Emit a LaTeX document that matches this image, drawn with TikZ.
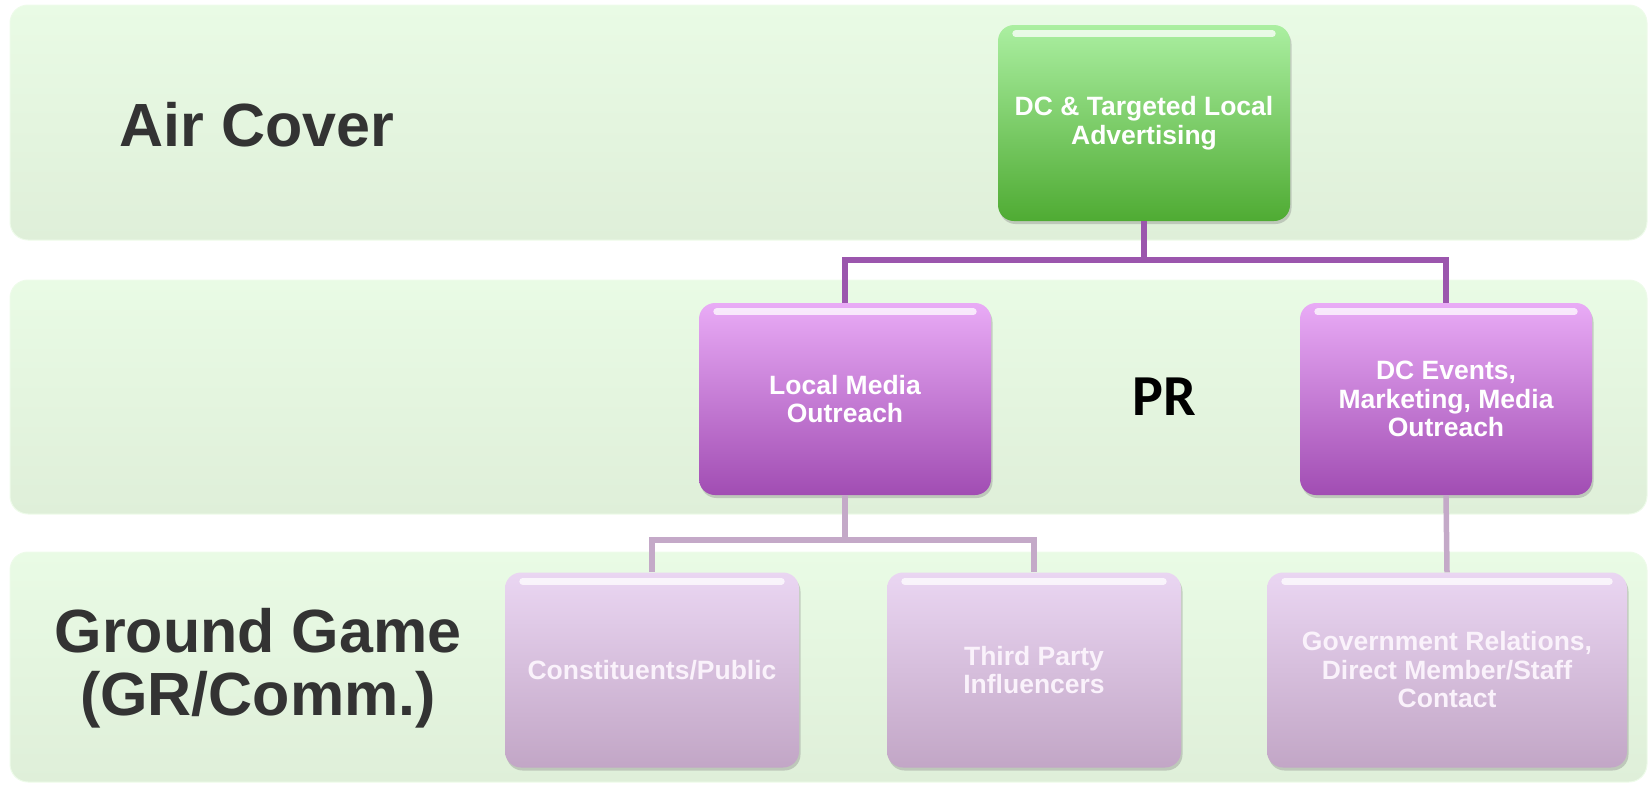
\documentclass[tikz,border=0pt]{standalone}
\usepackage{fontspec}
\setmainfont{Liberation Sans}
\newfontfamily\prfont{Carlito}
\usetikzlibrary{shadows}

\definecolor{bandtop}{HTML}{E9FBE5}
\definecolor{bandbot}{HTML}{DFEFD9}
\definecolor{bandedge}{HTML}{EEFBEA}
\definecolor{greentop}{HTML}{ABEFA1}
\definecolor{greenbot}{HTML}{4FAB33}
\definecolor{violettop}{HTML}{E9ABF6}
\definecolor{violetbot}{HTML}{A14DB3}
\definecolor{lilactop}{HTML}{EAD6F2}
\definecolor{lilacbot}{HTML}{C2A6C6}
\definecolor{linkviolet}{HTML}{9B56AD}
\definecolor{linklilac}{HTML}{C4A9C8}
\definecolor{labelgray}{HTML}{333333}
\definecolor{lilactext}{HTML}{FAF2FB}

\tikzset{
	band/.style={rounded corners=18pt, top color=bandtop, bottom color=bandbot, draw=bandedge, line width=1pt},
	rowlabel/.style={align=center, text=labelgray, font=\fontsize{61}{63}\selectfont\bfseries},
	tile/.style={rounded corners=16pt, align=center, text=white, inner sep=0pt,
		font=\fontsize{26.5}{28.5}\selectfont\bfseries,
		drop shadow={opacity=0.35, shadow xshift=1.5pt, shadow yshift=-3pt}},
	greentile/.style={tile, top color=greentop, bottom color=greenbot},
	violettile/.style={tile, top color=violettop, bottom color=violetbot},
	lilactile/.style={tile, top color=lilactop, bottom color=lilacbot, text=lilactext},
	link/.style={draw=linkviolet, line width=5.5pt},
	sublink/.style={draw=linklilac, line width=5.5pt},
	gloss/.style={draw=white, line width=7pt, line cap=round, opacity=0.75}
}

\begin{document}
\begin{tikzpicture}[x=1pt,y=-1pt]
	\useasboundingbox (0,0) rectangle (1651,785);
	% Define the bands
	\draw[band] (10,5) rectangle (1647,240);
	\draw[band] (10,280) rectangle (1647,514);
	\draw[band] (10,552) rectangle (1647,782);
	% Add labels to the bands
	\node[rowlabel] (air) at (257,125) {Air Cover};
	\node[rowlabel] (ground) at (258,668) {Ground Game\\(GR/Comm.)};
	\node[font=\prfont\fontsize{58}{60}\selectfont\bfseries] (pr) at (1164,397) {PR};
	% Create Tiles
	\node[greentile, minimum width=292pt, minimum height=196pt] (adv) at (1144,123) {DC \& Targeted Local\\Advertising};
	\node[violettile, minimum width=292pt, minimum height=192pt] (lmo) at (845,399) {Local Media\\Outreach};
	\node[violettile, minimum width=292pt, minimum height=192pt] (dce) at (1446,399) {DC Events,\\Marketing, Media\\Outreach};
	\node[lilactile, minimum width=294pt, minimum height=195pt] (con) at (652,670) {Constituents/Public};
	\node[lilactile, minimum width=294pt, minimum height=195pt] (tpi) at (1034,670) {Third Party\\Influencers};
	\node[lilactile, minimum width=360pt, minimum height=195pt] (gov) at (1447,670) {Government Relations,\\Direct Member/Staff\\Contact};
	% Gloss on the tiles
	\foreach \n in {adv,lmo,dce,con,tpi,gov}
		\draw[gloss] ([xshift=18pt,yshift=-9pt]\n.north west) -- ([xshift=-18pt,yshift=-9pt]\n.north east);
	% Connect the tiles
	\coordinate (fork1) at (1144,260);
	\coordinate (fork2) at (845,540);
	\draw[link] (adv.south) -- (fork1) -| (lmo.north);
	\draw[link] (fork1) -| (dce.north);
	\draw[sublink] (lmo.south) -- (fork2) -| (con.north);
	\draw[sublink] (fork2) -| (tpi.north);
	\draw[sublink] (dce.south) -- (gov.north);
\end{tikzpicture}
\end{document}
